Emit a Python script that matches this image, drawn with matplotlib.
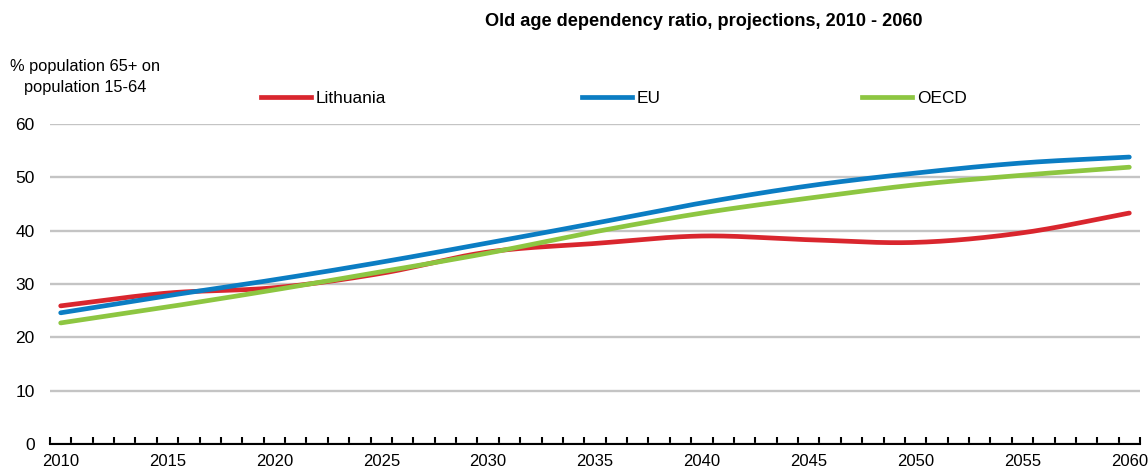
import numpy as np
import matplotlib
matplotlib.use("Agg")
import matplotlib.pyplot as plt
from matplotlib.lines import Line2D

# ---- data ----
years = [2010, 2015, 2020, 2025, 2030, 2035, 2040, 2045, 2050, 2055, 2060]
lithuania = [25.9, 28.3, 29.3, 32.0, 36.0, 37.6, 39.0, 38.3, 37.8, 39.6, 43.3]
eu = [24.6, 27.8, 30.8, 34.1, 37.7, 41.4, 45.2, 48.4, 50.8, 52.7, 53.8]
oecd = [22.7, 25.7, 28.9, 32.3, 35.8, 39.8, 43.3, 46.1, 48.6, 50.4, 51.9]
series_names = ["Lithuania", "EU", "OECD"]
y_ticks = [0, 10, 20, 30, 40, 50, 60]
x_labels = [2010, 2015, 2020, 2025, 2030, 2035, 2040, 2045, 2050, 2055, 2060]

colors = ["#d9262e", "#0b7dc3", "#8dc641"]
FONT = ["Liberation Sans Narrow", "Liberation Sans", "DejaVu Sans"]
plt.rcParams["font.family"] = FONT


def smooth(x, y, n=30):
    """Catmull-Rom curve through the points (Excel-like smoothed line)."""
    x = np.asarray(x, float)
    y = np.asarray(y, float)
    P = np.column_stack([x, y])
    P = np.vstack([2 * P[0] - P[1], P, 2 * P[-1] - P[-2]])
    out = []
    t = np.linspace(0, 1, n, endpoint=False)
    for i in range(1, len(P) - 2):
        p0, p1, p2, p3 = P[i - 1], P[i], P[i + 1], P[i + 2]
        m1 = (p2 - p0) / 2.0
        m2 = (p3 - p1) / 2.0
        h00 = 2 * t**3 - 3 * t**2 + 1
        h10 = t**3 - 2 * t**2 + t
        h01 = -2 * t**3 + 3 * t**2
        h11 = t**3 - t**2
        seg = (h00[:, None] * p1 + h10[:, None] * m1 +
               h01[:, None] * p2 + h11[:, None] * m2)
        out.append(seg)
    out.append(P[-2][None, :])
    out = np.vstack(out)
    return out[:, 0], out[:, 1]


fig = plt.figure(figsize=(11.48, 4.70), dpi=100)
ax = fig.add_axes([50 / 1148, 26 / 470, 1090 / 1148, 320 / 470])

LW = 3.4
for name, vals, c in zip(series_names, [lithuania, eu, oecd], colors):
    sx, sy = smooth(years, vals)
    ax.plot(sx, sy, color=c, lw=LW, solid_capstyle="round", zorder=3)

ax.set_xlim(min(years) - 0.5, max(years) + 0.5)
ax.set_ylim(0, 60)
ax.set_yticks(y_ticks)
ax.set_yticklabels([str(v) for v in y_ticks])
ax.grid(axis="y", color="#c4c4c4", lw=1.7, zorder=0)
ax.set_axisbelow(True)

ax.set_xticks(x_labels)
ax.set_xticklabels([str(v) for v in x_labels])
ax.set_xticks(np.arange(min(years) - 0.5, max(years) + 1.0, 1.0), minor=True)
ax.tick_params(axis="x", which="major", length=0, pad=7, labelsize=12)
ax.tick_params(axis="x", which="minor", direction="in", length=5, width=1.5,
               color="black")
ax.tick_params(axis="y", length=0, pad=11, labelsize=12.5)

for s in ["top", "right", "left"]:
    ax.spines[s].set_visible(False)
ax.spines["bottom"].set_color("black")
ax.spines["bottom"].set_linewidth(1.5)

fig.text(704 / 1148, 1 - 21 / 470, "Old age dependency ratio, projections, 2010 - 2060",
         ha="center", va="center", fontsize=13.1, fontweight="bold")
fig.text(85 / 1148, 1 - 77 / 470, "% population 65+ on\npopulation 15-64",
         ha="center", va="center", fontsize=11.8, linespacing=1.45)

handles = [Line2D([], [], color=c, lw=LW) for c in colors]
leg_x = [264, 585, 865]
for h, name, lx in zip(handles, series_names, leg_x):
    fig.legend([h], [name], loc="center left",
               bbox_to_anchor=(lx / 1148 - 0.003, 1 - 98 / 470),
               frameon=False, fontsize=12.4, handlelength=2.9,
               handletextpad=0.3, borderpad=0, borderaxespad=0)

fig.savefig("out.png", dpi=100)
